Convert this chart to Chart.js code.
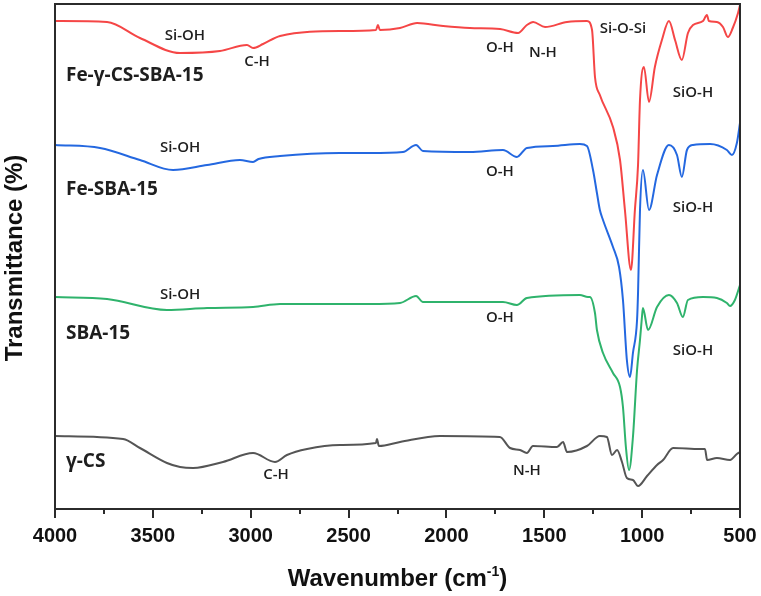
<!DOCTYPE html>
<html>
<head>
<meta charset="utf-8">
<script src="https://cdn.jsdelivr.net/npm/chart.js@4.4.1/dist/chart.umd.min.js"></script>
<style>
  html,body{margin:0;padding:0;background:#fff;}
  #wrap{width:761px;height:596px;}
</style>
</head>
<body>
<div id="wrap"><canvas id="ftir" width="761" height="596"></canvas></div>
<script>
// FTIR spectra, transmittance in arbitrary (offset) units, wavenumber in cm-1
const feCsWn=[4000,3734,3566,3361,3157,3019,2988,2937,2850,2544,2360,2350,2340,2237,2150,2017,1880,1726,1634,1589,1557,1496,1384,1282,1256,1241,1216,1149,1113,1088,1057,1037,1021,1011,991,965,935,899,863,832,797,766,740,689,669,659,618,587,562,537,510,500];
const feCsT =[488,487,471,456,458,464,461,465,473,478,479,484,479,481,486,483,481,480,476,484,487,482,487,488,479,432,414,382,349,299,239,299,344,409,442,407,442,469,488,469,449,476,484,488,494,488,487,482,472,481,496,504];

const feWn=[4000,3770,3566,3397,3223,3055,2988,2960,2850,2544,2391,2222,2155,2120,1880,1711,1640,1589,1456,1318,1282,1251,1231,1216,1200,1149,1118,1098,1078,1062,1047,1026,1021,1011,996,965,924,863,822,797,771,740,653,567,541,516,500];
const feT =[364,361,349,339,344,349,347,350,353,356,356,357,364,358,357,359,352,361,363,365,363,339,316,299,289,262,242,209,149,132,156,189,216,299,339,299,334,364,354,332,359,364,365,359,354,366,386];

const sbaWn=[4000,3734,3428,3223,2988,2850,2544,2391,2237,2155,2120,1711,1640,1589,1318,1277,1267,1241,1231,1200,1149,1113,1098,1083,1067,1047,1026,1011,1001,996,970,924,863,822,792,766,689,618,567,551,526,500];
const sbaT =[212,210,199,201,202,205,205,205,206,213,207,207,204,211,214,212,212,196,179,156,136,122,102,62,39,72,139,169,192,201,179,202,214,206,192,209,212,211,206,203,209,224];

const csWn=[4000,3652,3566,3428,3361,3294,3142,2988,2876,2815,2712,2544,2360,2355,2345,2237,2033,1727,1675,1624,1589,1558,1435,1404,1384,1282,1216,1180,1154,1128,1103,1078,1047,1021,975,924,893,842,705,679,668,618,551,516,500];
const csT =[73,70,61,46,42,41,47,56,47,54,60,64,66,70,63,67,73,72,61,59,56,63,62,67,57,63,73,72,54,59,47,31,29,23,33,44,49,61,60,60,49,51,49,55,57];

const seriesNames=['Fe-γ-CS-SBA-15','Fe-SBA-15','SBA-15','γ-CS'];
const seriesColors=['#f54646','#2468e0','#2fb36c','#555555'];
const xTicks=[4000,3500,3000,2500,2000,1500,1000,500];

// band labels: [text, wavenumber, transmittance]
const bandLabels=[
  ['Si-OH',3336,473],['C-H',2968,447],['O-H',1727,461],['N-H',1507,456],['Si-O-Si',1098,480],['SiO-H',740,416],
  ['Si-OH',3361,361],['O-H',1727,337],['SiO-H',740,301],
  ['Si-OH',3361,214],['O-H',1727,191],['SiO-H',740,158],
  ['C-H',2871,34],['N-H',1589,38]
];
// sample names: [text, wavenumber (left edge), transmittance]
const nameLabels=[
  [seriesNames[0],3944,433],[seriesNames[1],3944,319],[seriesNames[2],3944,175],[seriesNames[3],3944,47]
];

const pts=(wn,t)=>wn.map((w,i)=>({x:w,y:t[i]}));
const spectra=[[feCsWn,feCsT],[feWn,feT],[sbaWn,sbaT],[csWn,csT]];

const decor={
  id:'decor',
  afterDatasetsDraw(chart){
    const {ctx,chartArea:a,scales:{x,y}}=chart;
    ctx.save();
    // frame
    ctx.strokeStyle='#2b2b2b';
    ctx.lineWidth=2;
    ctx.strokeRect(a.left,a.top,a.right-a.left,a.bottom-a.top);
    // ticks, outward
    for(let v=500;v<=4000;v+=250){
      const px=Math.round(x.getPixelForValue(v));
      const len=v%500===0?9:5;
      ctx.beginPath();
      ctx.moveTo(px,a.bottom);
      ctx.lineTo(px,a.bottom+len);
      ctx.stroke();
    }
    // band labels
    ctx.fillStyle='#1e1e1e';
    ctx.font='600 15px "Open Sans"';
    ctx.textAlign='center';
    ctx.textBaseline='middle';
    bandLabels.forEach(([t,w,v])=> ctx.fillText(t,x.getPixelForValue(w),y.getPixelForValue(v)));
    // sample names
    ctx.font='700 19px "Open Sans"';
    ctx.textAlign='left';
    nameLabels.forEach(([t,w,v])=> ctx.fillText(t,x.getPixelForValue(w),y.getPixelForValue(v)));
    // axis titles
    ctx.fillStyle='#111';
    ctx.textBaseline='alphabetic';
    const main='Wavenumber (cm',sup='-1',close=')';
    ctx.font='bold 24px "Liberation Sans"';
    const w1=ctx.measureText(main).width, w3=ctx.measureText(close).width;
    ctx.font='bold 14px "Liberation Sans"';
    const w2=ctx.measureText(sup).width;
    let sx=(a.left+a.right)/2-(w1+w2+w3)/2;
    const by=586;
    ctx.font='bold 24px "Liberation Sans"';
    ctx.fillText(main,sx,by); sx+=w1;
    ctx.font='bold 14px "Liberation Sans"';
    ctx.fillText(sup,sx,by-10); sx+=w2;
    ctx.font='bold 24px "Liberation Sans"';
    ctx.fillText(close,sx,by);
    ctx.translate(15,258);
    ctx.rotate(-Math.PI/2);
    ctx.textAlign='center';
    ctx.textBaseline='middle';
    ctx.fillText('Transmittance (%)',0,0);
    ctx.restore();
  }
};

new Chart(document.getElementById('ftir'),{
  type:'line',
  data:{
    datasets:spectra.map(([wn,t],i)=>({
      label:seriesNames[i],
      data:pts(wn,t),
      borderColor:seriesColors[i],
      borderWidth:2,
      pointRadius:0,
      cubicInterpolationMode:'monotone',
      fill:false,
      order:i
    }))
  },
  options:{
    responsive:false,
    devicePixelRatio:1,
    animation:false,
    layout:{padding:{left:0,right:21,top:4,bottom:0}},
    plugins:{legend:{display:false},tooltip:{enabled:false}},
    scales:{
      x:{
        type:'linear',
        reverse:true,
        min:500,max:4000,
        afterBuildTicks:(s)=>{ s.ticks=xTicks.map(v=>({value:v})); },
        afterFit:(s)=>{ s.height=87; s.paddingLeft=0; s.paddingRight=0; },
        grid:{display:false,drawTicks:false},
        border:{display:false},
        ticks:{
          padding:15,
          color:'#111',
          maxRotation:0,
          autoSkip:false,
          font:{family:'Liberation Sans',weight:'bold',size:20},
          callback:(v)=>String(v)
        }
      },
      y:{
        min:0,max:505,
        afterFit:(s)=>{ s.width=55; },
        grid:{display:false,drawTicks:false},
        border:{display:false},
        ticks:{display:false}
      }
    }
  },
  plugins:[decor]
});
</script>
</body>
</html>
